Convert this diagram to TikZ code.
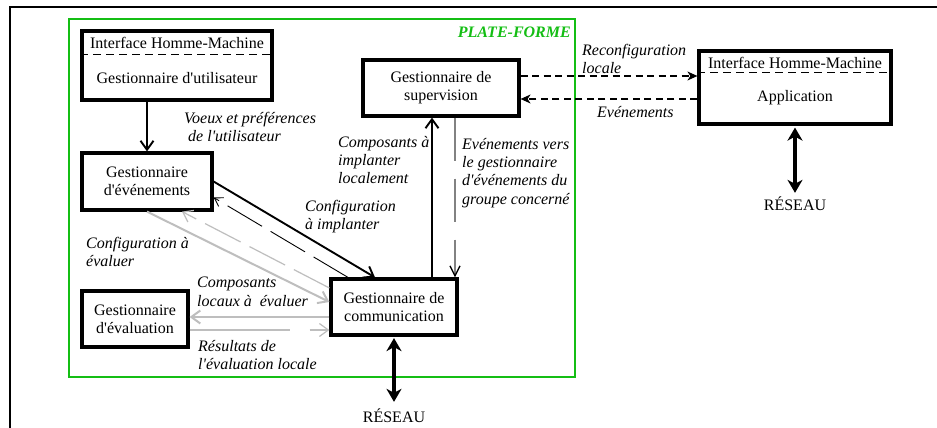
\documentclass[tikz,border=0pt]{standalone}
\usepackage{fontspec}
\setmainfont{Liberation Serif}
\usetikzlibrary{arrows.meta}
\definecolor{pfgreen}{RGB}{20,190,20}
\definecolor{lgray}{RGB}{190,190,190}
\definecolor{mgray}{RGB}{130,130,130}
\newcommand\ap{\textquotesingle}
\begin{document}
\begin{tikzpicture}[x=1pt,y=-1pt,
  box/.style={draw, line width=3.2pt, inner sep=0pt, align=center, font=\fontsize{16}{18}\selectfont},
  txt/.style={inner sep=0pt, font=\fontsize{16}{18}\selectfont},
  lbl/.style={inner sep=0pt, align=left, anchor=north west, font=\fontsize{16}{18.3}\selectfont\itshape},
  blk/.style={line width=1.9pt, -{Straight Barb[length=9pt,width=13pt]}},
  thindash/.style={line width=0.9pt, dash pattern=on 40pt off 10pt, -{Straight Barb[length=8pt,width=10pt]}},
  grayarrow/.style={lgray, line width=2pt, -{Straight Barb[length=9pt,width=13pt]}},
  graydash/.style={lgray, line width=1.2pt, dash pattern=on 100pt off 20pt, -{Straight Barb[length=9pt,width=13pt]}},
  graydiag/.style={lgray, line width=1.2pt, dash pattern=on 40pt off 10pt, -{Straight Barb[length=9pt,width=13pt]}},
  vdash/.style={mgray, line width=1.4pt, dash pattern=on 43pt off 18pt, -{Straight Barb[length=10pt,width=10pt,color=black]}},
  rdash/.style={line width=1.1pt, dash pattern=on 7pt off 4.5pt, -{Stealth[length=10pt,width=9pt,inset=3pt]}},
  net/.style={line width=3.6pt, {Stealth[length=13pt,width=15pt,inset=4pt]}-{Stealth[length=13pt,width=15pt,inset=4pt]}}
]
\path[fill=white] (0,0) rectangle (937,428);
\useasboundingbox (0,0) rectangle (937,428);

% outer frame
\draw[line width=2pt] (10,428) -- (10,7) -- (937,7);
% platform
\draw[pfgreen, line width=2.6pt] (69,19) rectangle (575,377);
\node[inner sep=0pt, anchor=east, font=\fontsize{16}{18}\selectfont\bfseries\itshape, text=pfgreen] (pf) at (571,32) {PLATE-FORME};

% boxes
\node[box, minimum width=190pt, minimum height=69pt] (b1) at (177,65.5) {};
\node[txt] (t1a) at (177,43) {Interface Homme-Machine};
\node[txt] (t1b) at (177,78) {Gestionnaire d\ap utilisateur};
\draw[line width=1.2pt, dash pattern=on 8pt off 5pt] ([yshift=-25pt]b1.north west) -- ([yshift=-25pt]b1.north east);

\node[box, minimum width=156pt, minimum height=56pt] (b2) at (441,88) {Gestionnaire de\\supervision};
\node[box, minimum width=130pt, minimum height=57pt] (b3) at (147,181.5) {Gestionnaire\\d\ap événements};
\node[box, minimum width=106pt, minimum height=56pt] (b4) at (135,319) {Gestionnaire\\d\ap évaluation};
\node[box, minimum width=126pt, minimum height=56pt] (b5) at (394,307) {Gestionnaire de\\communication};

\node[box, minimum width=192pt, minimum height=73pt] (b6) at (795,87.5) {};
\node[txt] (t6a) at (795,63) {Interface Homme-Machine};
\node[txt] (t6b) at (795,98) {Application};
\draw[line width=1.2pt, dash pattern=on 8pt off 5pt] ([yshift=-23pt]b6.north west) -- ([yshift=-23pt]b6.north east);

% networks
\node[txt] (r1) at (394,416) {RÉSEAU};
\node[txt] (r2) at (795,204) {RÉSEAU};
\draw[net, shorten <=1.5pt, shorten >=7pt] (b5.south) -- (r1.north);
\draw[net, shorten <=2pt, shorten >=4pt] (b6.south) -- (r2.north);

% connectors
\draw[blk] ([xshift=-30pt]b1.south) -- (b3.north);
\draw[blk] (b3.east) -- ([xshift=-19pt]b5.north);
\draw[thindash] ([xshift=-46pt]b5.north) -- ([yshift=-16pt]b3.east);
\draw[grayarrow] (b3.south) -- ([yshift=5pt]b5.west);
\draw[graydiag] ([yshift=19pt]b5.west) -- ([xshift=35pt]b3.south);
\draw[grayarrow] ([yshift=-10pt]b5.west) coordinate (g1) -- (g1 -| b4.east);
\draw[graydash] ([yshift=-11pt]b4.east) coordinate (g2) -- (g2 -| b5.west);
\draw[blk] ([xshift=38pt]b5.north) coordinate (v1) -- (v1 |- b2.south);
\draw[vdash] ([xshift=14pt]b2.south) coordinate (v2) -- (v2 |- b5.north);
\draw[rdash] ([yshift=12pt]b2.east) coordinate (h1) -- (h1 -| b6.west);
\draw[rdash] ([yshift=-11.5pt]b6.west) coordinate (h2) -- (h2 -| b2.east);

% labels
\node[lbl] (l1) at (184,112) {Voeux et préférences\\\hspace*{4pt}de l\ap utilisateur};
\node[lbl] (l2) at (338,136) {Composants à\\implanter\\localement};
\node[lbl] (l3) at (462,138) {Evénements vers\\le gestionnaire\\d\ap événements du\\groupe concerné};
\node[lbl] (l4) at (305,200) {Configuration\\à implanter};
\node[lbl] (l5) at (86,237) {Configuration à\\évaluer};
\node[lbl] (l6) at (197,277) {Composants\\locaux à\ \ évaluer};
\node[lbl] (l7) at (198,340) {Résultats de\\l\ap évaluation locale};
\node[lbl] (l8) at (582,44) {Reconfiguration\\locale};
\node[lbl] (l9) at (597,106) {Evénements};
\end{tikzpicture}
\end{document}
